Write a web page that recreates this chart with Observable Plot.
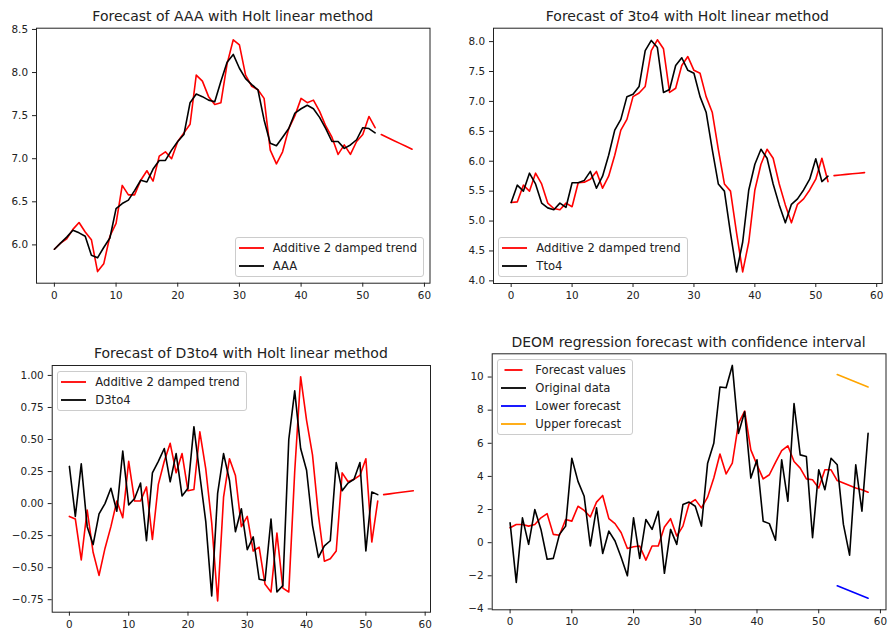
<!DOCTYPE html>
<html><head><meta charset="utf-8">
<script src="https://cdn.jsdelivr.net/npm/d3@7"></script>
<script src="https://cdn.jsdelivr.net/npm/@observablehq/plot@0.6"></script>
<style>
html,body{margin:0;padding:0;background:#fff;}
#root{position:relative;width:888px;height:630px;overflow:hidden;font-family:"DejaVu Sans",sans-serif;color:#222;background:#fff;}
.panel{position:absolute;}
.title{position:absolute;font-size:14px;line-height:14px;white-space:nowrap;transform:translateX(-50%);color:#222;}
.legend{position:absolute;border:1px solid #ccc;border-radius:3px;background:rgba(255,255,255,0.8);padding:1px 6px 1px 3px;font-size:11.6px;box-sizing:border-box;color:#222;}
.legend .row{display:flex;align-items:center;height:18px;white-space:nowrap;}
.legend svg{margin-right:9px;flex:none;}
</style></head><body><div id="root"></div>
<script>
// ---------- data ----------
const xTicks = [0, 10, 20, 30, 40, 50, 60];
const fittedIndex = d3.range(53);          // 0..52
const fullIndex = d3.range(59);            // 0..58
const forecastIndex = [53, 54, 55, 56, 57, 58];

const aaaActual = [5.95,6.02,6.09,6.17,6.14,6.10,5.88,5.85,5.97,6.08,
  6.42,6.48,6.52,6.63,6.75,6.73,6.88,6.98,6.98,7.10,
  7.20,7.28,7.65,7.75,7.72,7.68,7.66,7.90,8.12,8.21,
  8.05,7.93,7.86,7.80,7.45,7.18,7.15,7.25,7.35,7.53,
  7.58,7.62,7.58,7.48,7.35,7.20,7.20,7.12,7.16,7.22,
  7.36,7.35,7.30];
const aaaFitted = [5.95,6.02,6.07,6.18,6.26,6.15,6.06,5.69,5.78,6.10,
  6.25,6.69,6.58,6.58,6.75,6.86,6.74,7.03,7.08,7.00,
  7.20,7.30,7.40,7.97,7.90,7.72,7.63,7.65,8.10,8.38,
  8.32,7.97,7.84,7.80,7.70,7.10,6.94,7.08,7.35,7.50,
  7.70,7.65,7.68,7.55,7.38,7.25,7.05,7.16,7.05,7.20,
  7.28,7.49,7.36];
const aaaForecast = [7.28,7.246,7.212,7.178,7.144,7.11];
const aaaYTicks = [6.0, 6.5, 7.0, 7.5, 8.0, 8.5];

const tto4Actual = [5.31,5.60,5.50,5.80,5.62,5.30,5.22,5.19,5.30,5.23,
  5.64,5.64,5.68,5.83,5.55,5.75,6.10,6.52,6.70,7.08,
  7.12,7.25,7.85,8.02,7.90,7.15,7.20,7.60,7.73,7.52,
  7.47,7.08,6.82,6.20,5.62,5.50,4.80,4.15,4.65,5.52,
  5.95,6.20,6.05,5.62,5.27,4.97,5.28,5.37,5.52,5.70,
  6.04,5.66,5.75];
const tto4Fitted = [5.31,5.32,5.60,5.50,5.80,5.62,5.30,5.21,5.19,5.30,
  5.24,5.64,5.65,5.70,5.83,5.55,5.75,6.10,6.52,6.70,
  7.08,7.14,7.25,7.85,8.03,7.88,7.15,7.22,7.60,7.75,
  7.52,7.47,7.08,6.82,6.20,5.62,5.50,4.80,4.15,4.65,
  5.52,5.95,6.20,6.05,5.62,5.27,4.97,5.28,5.37,5.52,
  5.70,6.05,5.66];
const tto4Forecast = [5.76,5.77,5.78,5.79,5.80,5.81];
const tto4YTicks = [4.0, 4.5, 5.0, 5.5, 6.0, 6.5, 7.0, 7.5, 8.0];

const d3to4Actual = [0.29,-0.10,0.31,-0.18,-0.32,-0.08,0.00,0.12,-0.06,0.41,
  -0.01,0.04,0.16,-0.29,0.24,0.33,0.43,0.17,0.39,0.06,
  0.12,0.60,0.22,-0.14,-0.72,0.08,0.39,0.18,-0.22,-0.04,
  -0.36,-0.26,-0.59,-0.60,-0.12,-0.69,-0.64,0.50,0.88,0.43,
  0.26,-0.17,-0.42,-0.33,-0.29,0.32,0.10,0.16,0.19,0.32,
  -0.37,0.09,0.07];
const d3to4Fitted = [-0.10,-0.12,-0.44,-0.05,-0.38,-0.56,-0.35,-0.18,0.02,-0.11,
  0.33,0.02,0.02,0.13,-0.28,0.15,0.33,0.47,0.24,0.39,
  0.10,0.11,0.56,0.27,-0.15,-0.76,0.05,0.35,0.22,-0.18,
  -0.10,-0.37,-0.34,-0.63,-0.69,-0.23,-0.66,-0.69,0.25,0.99,
  0.65,0.38,-0.09,-0.45,-0.43,-0.37,0.24,0.17,0.19,0.22,
  0.35,-0.30,0.02];
const d3to4Forecast = [0.07,0.076,0.082,0.088,0.094,0.10];
const d3to4YTicks = [-0.75, -0.5, -0.25, 0, 0.25, 0.5, 0.75, 1.0];

const deomOriginal = [1.2,-2.4,1.5,-0.1,2.0,0.8,-1.0,-0.95,0.5,1.0,
  5.1,3.7,2.8,-0.2,2.1,-0.65,0.7,0.1,-0.9,-2.0,
  1.5,-0.95,1.4,0.8,1.9,-1.85,0.8,-0.1,2.3,2.45,
  2.2,1.0,4.8,6.0,9.4,9.35,10.7,6.6,7.9,3.9,
  5.0,1.3,1.15,0.15,5.0,2.5,8.4,5.3,5.2,0.3,
  4.4,3.2,5.1,4.7,1.1,-0.75,4.7,1.9,6.6];
const deomForecast = [0.9,1.1,1.1,1.0,1.1,1.5,1.75,0.5,0.45,1.4,
  1.3,2.2,1.95,1.55,2.45,2.85,1.45,1.15,0.6,-0.35,
  -0.25,-0.2,-1.05,-0.2,-0.2,0.95,1.45,0.4,1.0,2.35,
  2.6,2.1,2.75,3.9,5.35,4.15,4.8,7.2,7.95,5.6,
  4.7,3.85,4.1,4.85,5.55,5.85,4.9,4.5,3.85,3.8,
  3.3,4.4,4.4,3.75,3.6,3.45,3.3,3.2,3.05];
const deomLower = [-2.6,-2.75,-2.9,-3.05,-3.2,-3.35];
const deomUpper = [10.15,10.0,9.85,9.7,9.55,9.4];
const deomYTicks = [-4, -2, 0, 2, 4, 6, 8, 10];

const titles = [
  "Forecast of AAA with Holt linear method",
  "Forecast of 3to4 with Holt linear method",
  "Forecast of D3to4 with Holt linear method",
  "DEOM regression forecast with confidence interval"
];

// ---------- helpers ----------
const rows = (xs, ys) => ys.map((v, i) => ({x: xs[i], y: v}));
const pad = ([a, b]) => { const m = (b - a) * 0.05; return [a - m, b + m]; };
const withMinus = (spec) => { const f = d3.format(spec); return v => f(v).replace("-", "\u2212"); };

const panels = [
  {
    title: titles[0],
    box: {left: 0, top: 0, width: 444, height: 315},
    frame: {left: 36, right: 429.5, top: 27.7, bottom: 282.7},
    yTicks: aaaYTicks, fmt: withMinus(".1f"),
    series: [
      {data: rows(fittedIndex, aaaFitted), color: "red"},
      {data: rows(fittedIndex, aaaActual), color: "black"},
      {data: rows(forecastIndex, aaaForecast), color: "red"}
    ],
    legend: {style: "right:464px;bottom:353px;", entries: [
      {label: "Additive 2 damped trend", color: "red"},
      {label: "AAA", color: "black"}]}
  },
  {
    title: titles[1],
    box: {left: 444, top: 0, width: 444, height: 315},
    frame: {left: 493, right: 881.7, top: 27.7, bottom: 283},
    yTicks: tto4YTicks, fmt: withMinus(".1f"),
    series: [
      {data: rows(fittedIndex, tto4Fitted), color: "red"},
      {data: rows(fittedIndex, tto4Actual), color: "black"},
      {data: rows(forecastIndex, tto4Forecast), color: "red"}
    ],
    legend: {style: "left:498.3px;bottom:353px;", entries: [
      {label: "Additive 2 damped trend", color: "red"},
      {label: "Tto4", color: "black"}]}
  },
  {
    title: titles[2],
    box: {left: 0, top: 315, width: 444, height: 315},
    frame: {left: 51.7, right: 430, top: 365, bottom: 611.7},
    yTicks: d3to4YTicks, fmt: withMinus(".2f"),
    series: [
      {data: rows(fittedIndex, d3to4Fitted), color: "red"},
      {data: rows(fittedIndex, d3to4Actual), color: "black"},
      {data: rows(forecastIndex, d3to4Forecast), color: "red"}
    ],
    legend: {style: "left:57.3px;top:370.7px;", entries: [
      {label: "Additive 2 damped trend", color: "red"},
      {label: "D3to4", color: "black"}]}
  },
  {
    title: titles[3],
    box: {left: 444, top: 315, width: 444, height: 315},
    frame: {left: 491.7, right: 885.5, top: 353.3, bottom: 609.3},
    yTicks: deomYTicks, fmt: withMinus("d"),
    series: [
      {data: rows(fullIndex, deomForecast), color: "red"},
      {data: rows(fullIndex, deomOriginal), color: "black"},
      {data: rows(forecastIndex, deomLower), color: "blue"},
      {data: rows(forecastIndex, deomUpper), color: "orange"}
    ],
    legend: {style: "left:497.3px;top:359.3px;", entries: [
      {label: "Forecast values", color: "red", short: true},
      {label: "Original data", color: "black"},
      {label: "Lower forecast", color: "blue"},
      {label: "Upper forecast", color: "orange"}]}
  }
];

const root = document.getElementById("root");

for (const p of panels) {
  const all = p.series.flatMap(s => s.data);
  const xDom = pad(d3.extent(all, d => d.x));
  const yDom = pad(d3.extent(all, d => d.y));
  const b = p.box, f = p.frame;
  const chart = Plot.plot({
    width: b.width, height: b.height,
    marginLeft: f.left - b.left,
    marginRight: b.left + b.width - f.right,
    marginTop: f.top - b.top,
    marginBottom: b.top + b.height - f.bottom,
    x: {domain: xDom},
    y: {domain: yDom},
    style: {fontFamily: "DejaVu Sans, sans-serif", fontSize: "10.4px", color: "#222", background: "transparent", overflow: "visible"},
    marks: [
      Plot.axisX({ticks: xTicks, tickSize: 4, tickPadding: 4, label: null, tickFormat: d3.format("d")}),
      Plot.axisY({ticks: p.yTicks, tickSize: 4, tickPadding: 4.5, label: null, tickFormat: p.fmt}),
      ...p.series.map(s => Plot.line(s.data, {x: "x", y: "y", stroke: s.color, strokeWidth: 1.6})),
      Plot.frame({stroke: "#222", strokeWidth: 1})
    ]
  });
  const wrap = document.createElement("div");
  wrap.className = "panel";
  wrap.style.left = b.left + "px";
  wrap.style.top = b.top + "px";
  wrap.appendChild(chart);
  root.appendChild(wrap);

  // title (baseline ~7px above frame)
  const t = document.createElement("div");
  t.className = "title";
  t.textContent = p.title;
  t.style.left = ((f.left + f.right) / 2) + "px";
  t.style.top = (f.top - 7 - 11.8) + "px";
  root.appendChild(t);

  // legend
  const lg = document.createElement("div");
  lg.className = "legend";
  lg.setAttribute("style", p.legend.style);
  for (const e of p.legend.entries) {
    const r = document.createElement("div");
    r.className = "row";
    const x1 = e.short ? 3.5 : 0, x2 = e.short ? 21.5 : 25;
    r.innerHTML = `<svg width="25" height="6"><line x1="${x1}" x2="${x2}" y1="3" y2="3" stroke="${e.color}" stroke-width="1.8"/></svg><span>${e.label}</span>`;
    lg.appendChild(r);
  }
  root.appendChild(lg);
}
</script></body></html>
